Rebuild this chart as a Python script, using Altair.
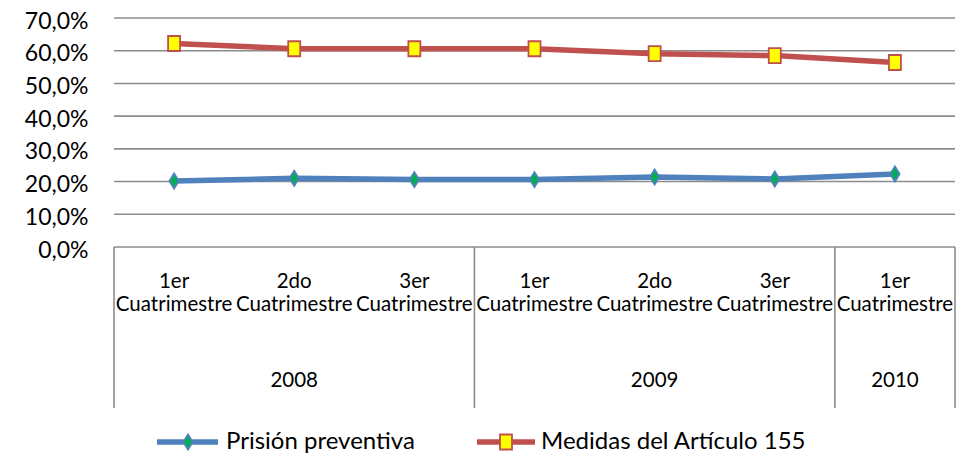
import altair as alt
import pandas as pd

periodo_l1 = ["1er", "2do", "3er", "1er", "2do", "3er", "1er"]
periodo_l2 = ["Cuatrimestre"] * 7
anios = ["2008", "2008", "2008", "2009", "2009", "2009", "2010"]
series = ["Prisión preventiva", "Medidas del Artículo 155"]
prision = [20.2, 21.0, 20.6, 20.6, 21.4, 20.8, 22.3]
medidas = [62.2, 60.6, 60.6, 60.6, 59.1, 58.5, 56.4]
y_ticks = [0, 10, 20, 30, 40, 50, 60, 70]

FONT = "Lato"
GRID = "#8C8C8C"
BLUE = "#4F81BD"
RED = "#C0504D"

W, H = 841, 229

rows = []
for i in range(7):
    rows.append({"idx": i, "serie": series[0], "valor": prision[i]})
    rows.append({"idx": i, "serie": series[1], "valor": medidas[i]})
df = pd.DataFrame(rows)

cats = pd.DataFrame({"idx": list(range(7)), "l1": periodo_l1, "l2": periodo_l2, "anio": anios})

groups = []
for a in dict.fromkeys(anios):
    ids = [i for i, v in enumerate(anios) if v == a]
    groups.append({"anio": a, "ini": ids[0] - 0.5, "fin": ids[-1] + 0.5, "centro": (ids[0] + ids[-1]) / 2})
gdf = pd.DataFrame(groups)
seps = pd.DataFrame({"pos": sorted(set(list(gdf["ini"]) + list(gdf["fin"])))})

xs = alt.Scale(domain=[-0.5, 6.5], nice=False, zero=False)
ys = alt.Scale(domain=[0, 70], nice=False)

y_axis = alt.Axis(
    values=y_ticks, title=None, domain=False, ticks=False, grid=False, labelOverlap=False,
    labelExpr="replace(format(datum.value, '.1f'), '.', ',') + '%'",
    labelFont=FONT, labelFontSize=23, labelColor="#000000", labelPadding=26, labelOffset=3)

base = alt.Chart(df)

grid = alt.Chart(pd.DataFrame({"t": y_ticks})).mark_rule(color=GRID, strokeWidth=1.6).encode(
    y=alt.Y("t:Q", scale=ys, axis=y_axis),
    x=alt.value(0), x2=alt.value(W),
)

sep_rules = alt.Chart(seps).mark_rule(color=GRID, strokeWidth=1.6).encode(
    x=alt.X("pos:Q", scale=xs, axis=None), y=alt.value(H), y2=alt.value(390)
)

color_scale = alt.Scale(domain=series, range=[BLUE, RED])

lines = base.mark_line(strokeWidth=5.5).encode(
    x=alt.X("idx:Q", scale=xs, axis=None),
    y=alt.Y("valor:Q", scale=ys, axis=y_axis),
    color=alt.Color("serie:N", scale=color_scale, legend=None),
)

DIAMOND = "M0,-1L0.62,0L0,1L-0.62,0Z"
RECT = "M-0.8,-1L0.8,-1L0.8,1L-0.8,1Z"
shape_scale = alt.Scale(domain=series, range=[DIAMOND, RECT])
fill_scale = alt.Scale(domain=series, range=["#00B050", "#FFFF00"])

pts = base.mark_point(filled=True, size=225, strokeWidth=1.8, opacity=1).encode(
    x=alt.X("idx:Q", scale=xs, axis=None),
    y=alt.Y("valor:Q", scale=ys, axis=y_axis),
    shape=alt.Shape("serie:N", scale=shape_scale, legend=None),
    fill=alt.Fill("serie:N", scale=fill_scale, legend=None),
    stroke=alt.Stroke("serie:N", scale=color_scale, legend=None),
)

TXT = dict(font=FONT, fontSize=20.5, baseline="middle", color="#000000")
txt1 = alt.Chart(cats).mark_text(**TXT).encode(
    x=alt.X("idx:Q", scale=xs, axis=None), y=alt.value(264), text="l1:N")
txt2 = alt.Chart(cats).mark_text(**TXT).encode(
    x=alt.X("idx:Q", scale=xs, axis=None), y=alt.value(287), text="l2:N")
txt3 = alt.Chart(gdf).mark_text(**TXT).encode(
    x=alt.X("centro:Q", scale=xs, axis=None), y=alt.value(363), text="anio:N")

chart = alt.layer(grid, sep_rules, lines, pts, txt1, txt2, txt3)

# legend (manual, below the category box)
leg = pd.DataFrame({"serie": series, "lx1": [43, 363], "lx2": [104, 421], "mx": [74, 392], "tx": [112, 427]})
pix = alt.Scale(domain=[0, W], range=[0, W], nice=False, zero=False)
LEG_Y = 424
leg_lines = alt.Chart(leg).mark_rule(strokeWidth=5.5).encode(
    x=alt.X("lx1:Q", scale=pix, axis=None), x2="lx2:Q", y=alt.value(LEG_Y),
    color=alt.Color("serie:N", scale=color_scale, legend=None))
leg_pts = alt.Chart(leg).mark_point(filled=True, size=225, strokeWidth=1.8, opacity=1).encode(
    x=alt.X("mx:Q", scale=pix, axis=None), y=alt.value(LEG_Y),
    shape=alt.Shape("serie:N", scale=shape_scale, legend=None),
    fill=alt.Fill("serie:N", scale=fill_scale, legend=None),
    stroke=alt.Stroke("serie:N", scale=color_scale, legend=None))
leg_txt = alt.Chart(leg).mark_text(font=FONT, fontSize=24, align="left", baseline="alphabetic", color="#000000").encode(
    x=alt.X("tx:Q", scale=pix, axis=None), y=alt.value(LEG_Y + 7), text="serie:N")

final = alt.layer(
    chart, alt.layer(leg_lines, leg_pts, leg_txt)
).resolve_scale(x="independent").properties(
    width=W, height=H,
    padding={"left": 106, "top": 10, "right": 10, "bottom": 207},
    autosize=alt.AutoSizeParams(type="none"),
    background="#FFFFFF",
).configure_view(stroke=None)

final.save("out.html", embed_options={"renderer": "svg", "actions": False})
